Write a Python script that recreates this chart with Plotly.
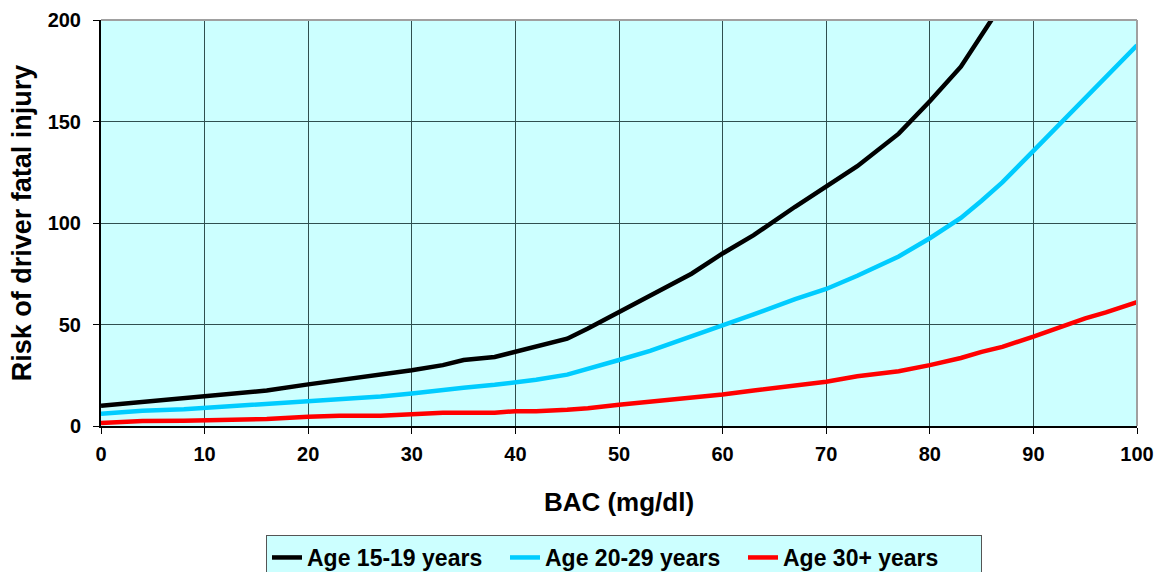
import plotly.graph_objects as go

# BAC levels (mg/dl) at which relative risk is tabulated
bac = [0, 4, 8, 12, 16, 20, 23, 27, 30, 33, 35, 38, 40, 42, 45, 47, 50, 53, 57,
       60, 63, 67, 70, 73, 77, 80, 83, 85, 87, 90, 93, 95, 97, 100]

risk_15_19 = [10, 12, 13.5, 15.5, 17.5, 20.5, 22.5, 25, 27.5, 30, 32.5, 34, 36.5,
              39.5, 43, 48, 56, 64, 75, 85, 94, 108, 118, 128, 144, 160, 177, 192,
              207, 230, 255, 275, 295, 330]
risk_20_29 = [6, 7.5, 8.3, 9.5, 10.8, 12.3, 13, 14.5, 16, 18, 18.8, 20.3, 21.3,
              22.8, 25.3, 28, 32.5, 37, 44, 49.5, 55, 62.5, 67.5, 74, 83.5, 92.5,
              102.5, 111, 120, 135.5, 151, 162, 172, 187.5]
risk_30_plus = [1.5, 2.5, 2.6, 3, 3.5, 4.5, 5, 5, 5.8, 6.5, 6.5, 6.5, 7.3, 7.3, 8,
                8.7, 10.5, 12, 13.5, 15.5, 17.5, 19.8, 21.8, 24.5, 27, 30, 33.5,
                36.5, 39, 44, 49.5, 53, 56, 61]

series = [
    ("Age 15-19 years", risk_15_19, "#000000"),
    ("Age 20-29 years", risk_20_29, "#00CCFF"),
    ("Age 30+ years", risk_30_plus, "#FF0000"),
]

font_family = "Liberation Sans, Arial, sans-serif"

fig = go.Figure()
for name, values, color in series:
    fig.add_trace(go.Scatter(
        x=bac, y=values, name=name, mode="lines",
        line=dict(color=color, width=4.5),
    ))

axis_common = dict(
    showgrid=True, gridcolor="#2F4F4F", gridwidth=1,
    ticks="outside", ticklen=6, tickcolor="#000000", tickwidth=1,
    showline=True, linecolor="#000000", linewidth=2,
    zeroline=False, automargin=False,
    tickfont=dict(family=font_family, size=20, color="#000000", weight="bold"),
)

fig.update_layout(
    width=1163, height=572,
    margin=dict(l=101, r=26, t=20, b=146, autoexpand=False),
    paper_bgcolor="#FFFFFF",
    plot_bgcolor="#CCFFFF",
    font=dict(family=font_family, color="#000000"),
    xaxis=dict(
        range=[0, 100], tick0=0, dtick=10, ticklabelstandoff=3, **axis_common,
        title=dict(text="BAC (mg/dl)", standoff=29,
                   font=dict(family=font_family, size=26, weight="bold")),
    ),
    yaxis=dict(
        range=[0, 200], tick0=0, dtick=50, ticklabelstandoff=8, **axis_common,
        title=dict(text="Risk of driver fatal injury", standoff=8,
                   font=dict(family=font_family, size=27, weight="bold")),
    ),
    legend=dict(
        orientation="h", x=(266 - 101) / 1036, xanchor="left",
        y=-(535 - 426) / 406, yanchor="top",
        bgcolor="#CCFFFF", bordercolor="#555555", borderwidth=1,
        font=dict(family=font_family, size=23, weight="bold"),
        itemwidth=30, entrywidth=193, entrywidthmode="pixels",
    ),
    showlegend=True,
)

# Light frame on the top and right edges of the plotting area
fig.add_shape(type="line", xref="paper", yref="paper", x0=0, x1=1, y0=1, y1=1,
              line=dict(color="#A0A0A0", width=2))
fig.add_shape(type="line", xref="paper", yref="paper", x0=1, x1=1, y0=0, y1=1,
              line=dict(color="#A0A0A0", width=2))

fig.write_html("out.html")
